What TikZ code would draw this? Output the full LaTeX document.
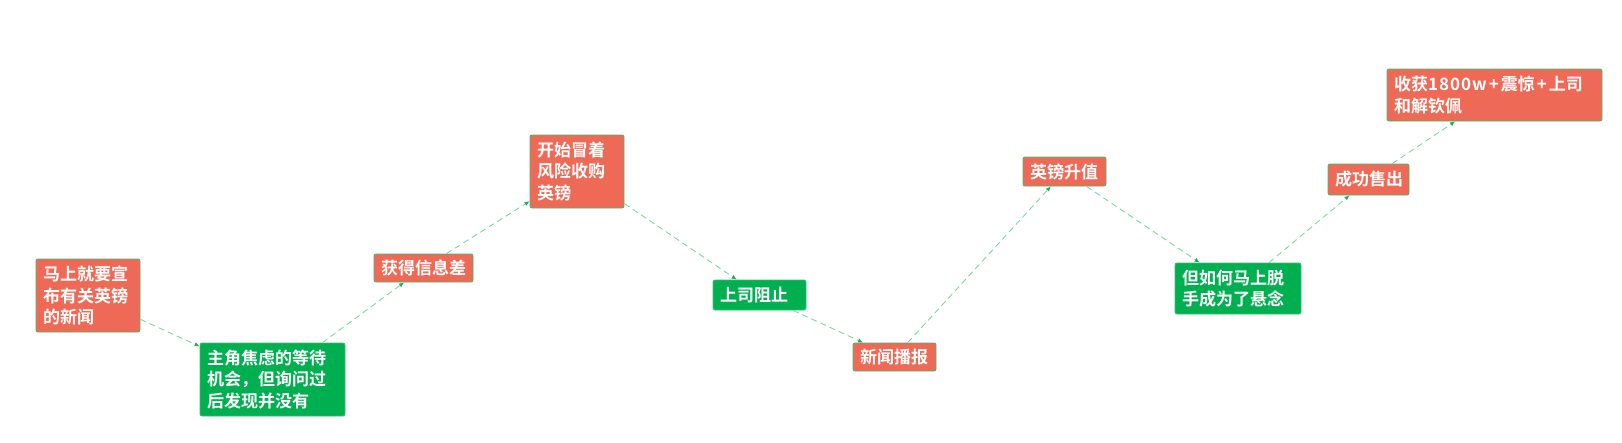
\documentclass[tikz,border=0pt]{standalone}
\usepackage{fontspec}
\setmainfont{Noto Sans CJK SC}[BoldFont={Noto Sans CJK SC Bold}]
\usetikzlibrary{arrows.meta}
\definecolor{boxred}{HTML}{EE6A56}
\definecolor{boxgreen}{HTML}{00B050}
\definecolor{edgegreen}{HTML}{3DBE72}
\definecolor{linegreen}{HTML}{7CD6A2}
\definecolor{tipgreen}{HTML}{1FAF5A}
\tikzset{
  card/.style={draw=edgegreen, line width=0.9pt, rounded corners=2pt,
    text=white, font=\fontsize{17}{21.7}\selectfont\bfseries,
    inner xsep=7pt, inner ysep=3pt, align=left, anchor=center},
  redcard/.style={card, fill=boxred},
  greencard/.style={card, fill=boxgreen},
  conn/.style={draw=linegreen, line width=0.9pt, dash pattern=on 6pt off 4pt,
    -{Latex[length=5pt,width=4.5pt,color=tipgreen]}}
}
\newcommand{\cardbox}[7]{% name, style, cx, cy, w, h, text
  \node[#2, text width=#5pt-14pt, minimum height=#6pt] (#1) at (#3,#4) {#7};}
\newcommand{\wplus}{\kern2pt+\kern2pt}
\begin{document}
\begin{tikzpicture}[x=1pt,y=-1pt]
\useasboundingbox (0,0) rectangle (1622,442);
\cardbox{n1}{redcard}{88}{295.5}{104}{73}{马上就要宣\\布有关英镑\\的新闻}
\cardbox{n2}{greencard}{272.5}{379.5}{145}{73}{主角焦虑的等待\\机会，但询问过\\后发现并没有}
\cardbox{n3}{redcard}{423.5}{268}{99}{28}{获得信息差}
\cardbox{n4}{redcard}{577}{171.5}{94}{73}{开始冒着\\风险收购\\英镑}
\cardbox{n5}{greencard}{759.5}{295}{93}{30}{上司阻止}
\cardbox{n6}{redcard}{894.5}{357}{83}{28}{新闻播报}
\cardbox{n7}{redcard}{1064.5}{171.5}{83}{29}{英镑升值}
\cardbox{n8}{redcard}{1368.5}{179.5}{81}{31}{成功售出}
\cardbox{n9}{redcard}{1494.5}{95}{215}{52}{收获{\addfontfeature{LetterSpace=6}1800w}\wplus 震惊\wplus 上司\\和解钦佩}
\cardbox{n10}{greencard}{1238}{288.5}{126}{51}{但如何马上脱\\手成为了悬念}
\draw[conn] (n1) -- (n2);
\draw[conn] (n2) -- (n3);
\draw[conn] (n3) -- (n4);
\draw[conn] (n4) -- (n5);
\draw[conn] (n5) -- (n6);
\draw[conn] (n6) -- (n7);
\draw[conn] (n7) -- (n10);
\draw[conn] (n10) -- (n8);
\draw[conn] (n8) -- (n9);
\end{tikzpicture}
\end{document}
